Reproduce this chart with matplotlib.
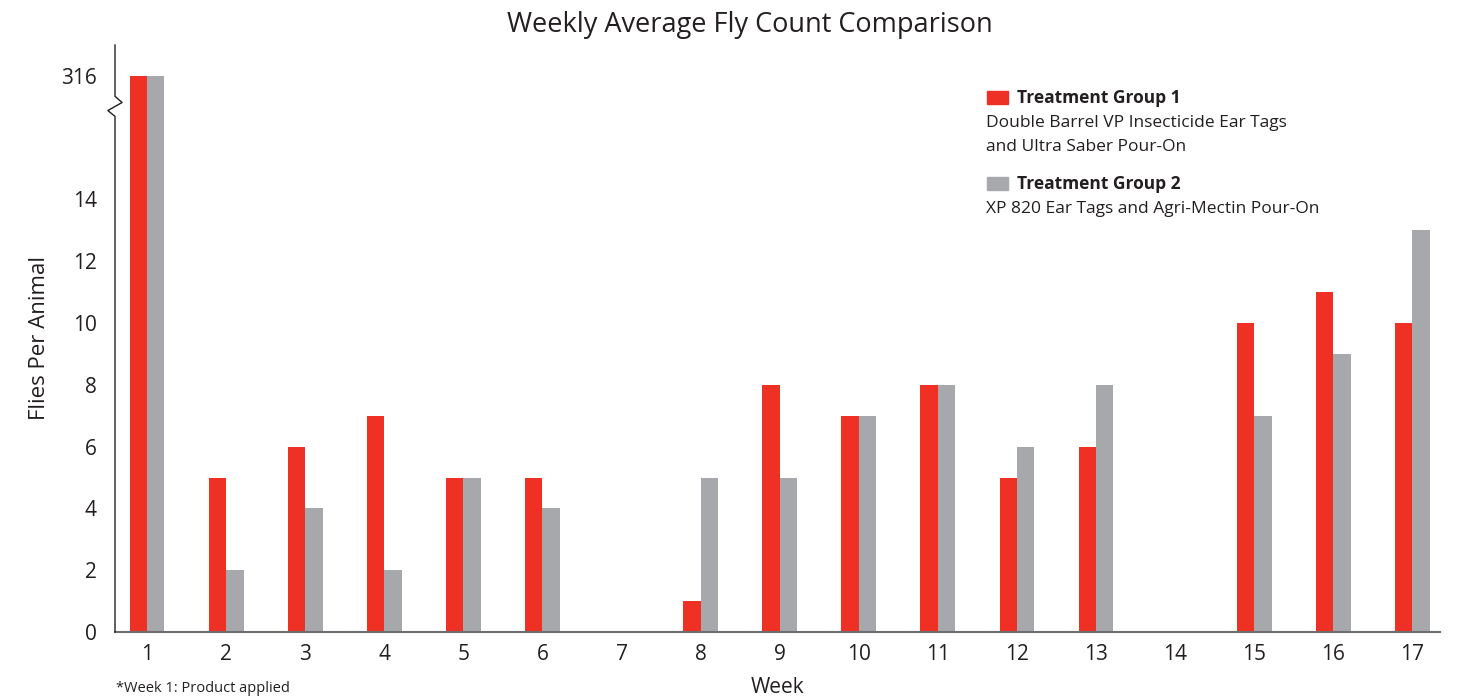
import numpy as np
import matplotlib
matplotlib.use("Agg")
import matplotlib.pyplot as plt
from matplotlib.patches import Rectangle

plt.rcParams['font.family'] = ['Open Sans', 'DejaVu Sans']

# Weekly average flies per animal
weeks = list(range(1, 18))
group1 = [316, 5, 6, 7, 5, 5, 0, 1, 8, 7, 8, 5, 6, 0, 10, 11, 10]
group2 = [316, 2, 4, 2, 5, 4, 0, 5, 5, 7, 8, 6, 8, 0, 7, 9, 13]
y_ticks = [0, 2, 4, 6, 8, 10, 12, 14]
break_value = 316   # shown above the axis break
break_pos = 18      # where the broken value sits on the axis

RED = "#ee3124"
GRAY = "#a7a8ab"


def squash(vals):
    # values over the break are drawn at the break position
    return [break_pos if v > 14 else v for v in vals]


fig = plt.figure(figsize=(14.63, 6.97), dpi=100)
ax = fig.add_axes([0.0786, 0.0933, 0.9057, 0.8421])

x = np.array(weeks)
w = 0.22
ax.bar(x - w / 2, squash(group1), width=w, color=RED)
ax.bar(x + w / 2, squash(group2), width=w, color=GRAY)

x0 = 0.595
ax.set_xlim(x0, 17.35)
ax.set_ylim(0, 19)

ax.set_xticks(weeks)
ax.set_xticklabels([str(wk) for wk in weeks])
ax.set_yticks(y_ticks + [break_pos])
ax.set_yticklabels([str(t) for t in y_ticks] + [str(break_value)])
ax.tick_params(axis='both', length=0, labelsize=15, colors="#231f20")
ax.tick_params(axis='y', pad=13)
ax.tick_params(axis='x', pad=9)

for s in ['top', 'right', 'left']:
    ax.spines[s].set_visible(False)
ax.spines['bottom'].set_color("#6d6e71")
ax.spines['bottom'].set_linewidth(1.5)

# left axis line with the zigzag break
dx = 0.09
ax.plot([x0, x0, x0 - dx, x0 + dx, x0, x0],
        [0, 16.69, 16.88, 17.14, 17.34, 19],
        color="#231f20", lw=1, clip_on=False, zorder=5)

ax.set_xlabel("Week", fontsize=15, labelpad=8, color="#231f20")
ax.set_ylabel("Flies Per Animal", fontsize=16, labelpad=8, color="#231f20")

fig.text(750 / 1463, 1 - 25 / 697, "Weekly Average Fly Count Comparison",
         fontsize=19.5, ha='center', va='center', color="#231f20")
fig.text(116 / 1463, 1 - 688 / 697, "*Week 1: Product applied",
         fontsize=10.5, ha='left', va='center', color="#231f20")

# legend
legend_items = [
    ("Treatment Group 1", ["Double Barrel VP Insecticide Ear Tags",
                           "and Ultra Saber Pour-On"], RED, 98),
    ("Treatment Group 2", ["XP 820 Ear Tags and Agri-Mectin Pour-On"], GRAY, 184),
]
W, H = 1463, 697
for title, lines, col, ypx in legend_items:
    fig.patches.append(Rectangle((987 / W, 1 - (ypx + 6) / H), 21 / W, 13 / H,
                                 transform=fig.transFigure, color=col))
    fig.text(1017 / W, 1 - ypx / H, title, fontsize=12.5, fontweight='bold',
             ha='left', va='center', color="#231f20")
    for i, ln in enumerate(lines):
        fig.text(986 / W, 1 - (ypx + 25 + 24 * i) / H, ln, fontsize=12.5,
                 ha='left', va='center', color="#231f20")

fig.savefig("out.png", dpi=100)
